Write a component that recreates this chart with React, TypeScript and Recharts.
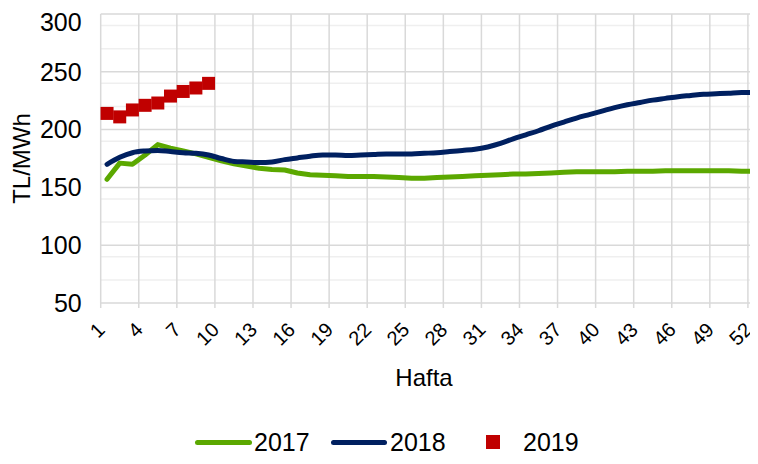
import React from "react"
import {
  ComposedChart,
  Line,
  XAxis,
  YAxis,
  CartesianGrid,
} from "recharts"

const weeks = [
  1, 2, 3, 4, 5, 6, 7, 8, 9, 10, 11, 12, 13, 14, 15, 16, 17, 18, 19, 20, 21, 22, 23, 24, 25, 26,
  27, 28, 29, 30, 31, 32, 33, 34, 35, 36, 37, 38, 39, 40, 41, 42, 43, 44, 45, 46, 47, 48, 49, 50, 51, 52,
]

const y2017 = [
  157, 171, 170, 178, 187, 184, 181.5, 179, 176, 173, 170.5, 168.5, 166.5, 165.5, 165, 162.5, 161,
  160.5, 160, 159.5, 159.5, 159.5, 159, 158.5, 158, 158, 158.5, 159, 159.5, 160, 160.5, 161, 161.5,
  161.5, 162, 162.5, 163, 163.5, 163.5, 163.5, 163.5, 164, 164, 164, 164.5, 164.5, 164.5, 164.5,
  164.5, 164.5, 164, 164,
]

const y2018 = [
  170, 176, 180, 181.5, 182, 181, 180, 179.5, 178, 175, 172.5, 172, 171.5, 172, 174, 175.5, 177,
  178, 178, 177.5, 178, 178.5, 179, 179, 179, 179.5, 180, 181, 182, 183, 185, 188, 192, 195.5, 199,
  203, 206.5, 210, 213, 216, 219, 221.5, 223.5, 225.5, 227, 228.5, 229.5, 230.5, 231, 231.5, 232, 232,
]

const y2019 = [214, 211, 217, 221, 223, 229, 233, 236, 240]

const weekTicks = [1, 4, 7, 10, 13, 16, 19, 22, 25, 28, 31, 34, 37, 40, 43, 46, 49, 52]
const yTicks = [50, 100, 150, 200, 250, 300]
const yMinor = [60, 70, 80, 90, 110, 120, 130, 140, 160, 170, 180, 190, 210, 220, 230, 240, 260, 270, 280, 290]

const GREEN = "#5BA800"
const BLUE = "#002060"
const RED = "#C00000"
const FONT = "'Liberation Sans', Arial, sans-serif"

// grid boundaries sit between categories
const boundaries = weekTicks.map((w) => w - 0.5)

const data = weeks.map((w, i) => ({
  week: w,
  y2017: y2017[i],
  y2018: y2018[i],
  y2019: i < y2019.length ? y2019[i] : null,
}))

const WeekTick = (props: any) => {
  const { x, y, payload } = props
  if (!Number.isInteger(payload.value)) {
    return <line x1={x} x2={x} y1={y} y2={y + 5} stroke="#d9d9d9" strokeWidth={1.5} />
  }
  const tx = x - 1
  const ty = y + 28
  return (
    <text
      x={tx}
      y={ty}
      transform={`rotate(-45, ${tx}, ${ty})`}
      textAnchor="end"
      fontSize={20}
      fontFamily={FONT}
      fill="#000"
    >
      {payload.value}
    </text>
  )
}

const SquareDot = (props: any) => {
  const { cx, cy, value } = props
  if (value == null || cy == null) return null
  return <rect x={cx - 6.5} y={cy - 6.5} width={13} height={13} fill={RED} />
}

export default function App() {
  return (
    <div style={{ position: "relative", width: 750, height: 456, overflow: "hidden", fontFamily: FONT }}>
      <ComposedChart
        width={770}
        height={456}
        data={data}
        margin={{ top: 6, right: 17.4, bottom: 0, left: 0 }}
      >
        <CartesianGrid
          stroke="#efefef"
          strokeWidth={1.5}
          vertical={false}
          horizontalValues={yMinor}
        />
        <CartesianGrid
          stroke="#d9d9d9"
          strokeWidth={1.5}
          horizontalValues={yTicks}
          verticalValues={boundaries}
        />
        <XAxis
          dataKey="week"
          type="number"
          domain={[0.5, 52.5]}
          ticks={[...boundaries, ...weekTicks].sort((a, b) => a - b)}
          interval={0}
          height={161}
          tickSize={0}
          tickMargin={0}
          tickLine={false}
          axisLine={false}
          tick={<WeekTick />}
          label={(p: any) => {
            const vb = p.viewBox
            return (
              <text x={416} y={vb.y + 83} textAnchor="middle" fontSize={24} fontFamily={FONT} fill="#000">
                Hafta
              </text>
            )
          }}
        />
        <YAxis
          domain={[50, 300]}
          ticks={yTicks}
          width={92.7}
          tickLine={false}
          axisLine={false}
          tickMargin={13}
          tick={{ fontSize: 25, fontFamily: FONT, fill: "#000" }}
          label={(p: any) => {
            const vb = p.viewBox
            const cy = vb.y + vb.height / 2
            return (
              <text
                x={13}
                y={cy}
                transform={`rotate(-90, 13, ${cy})`}
                textAnchor="middle"
                dominantBaseline="central"
                fontSize={24}
                fontFamily={FONT}
                fill="#000"
              >
                TL/MWh
              </text>
            )
          }}
        />
        <Line
          dataKey="y2017"
          type="linear"
          stroke={GREEN}
          strokeWidth={5}
          strokeLinecap="round"
          strokeLinejoin="round"
          dot={false}
          isAnimationActive={false}
        />
        <Line
          dataKey="y2018"
          type="monotone"
          stroke={BLUE}
          strokeWidth={5}
          strokeLinecap="round"
          dot={false}
          isAnimationActive={false}
        />
        <Line
          dataKey="y2019"
          stroke="none"
          dot={<SquareDot />}
          activeDot={false}
          isAnimationActive={false}
        />
      </ComposedChart>
      <div
        style={{
          position: "absolute",
          left: 187,
          top: 419,
          height: 30,
          display: "flex",
          alignItems: "center",
          fontSize: 25,
          color: "#000",
          whiteSpace: "nowrap",
        }}
      >
        <span style={{ width: 57, height: 5, borderRadius: 3, background: GREEN, display: "inline-block" }} />
        <span style={{ marginLeft: 2, width: 74 }}>2017</span>
        <span style={{ marginLeft: 3, width: 56, height: 5, borderRadius: 3, background: BLUE, display: "inline-block" }} />
        <span style={{ marginLeft: 3, width: 96 }}>2018</span>
        <span style={{ width: 14, height: 14, background: RED, display: "inline-block" }} />
        <span style={{ marginLeft: 23 }}>2019</span>
      </div>
    </div>
  )
}
